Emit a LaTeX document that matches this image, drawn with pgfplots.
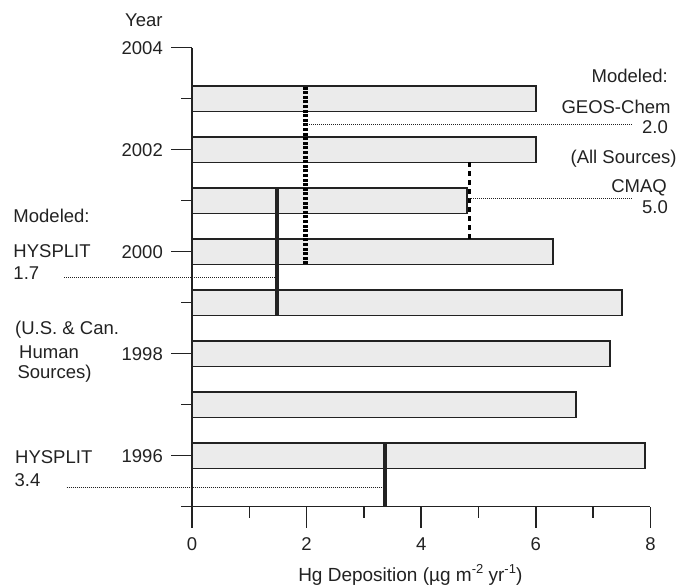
\documentclass[border=0pt]{standalone}
\usepackage{fontspec}
\setmainfont{Liberation Sans}
\usepackage{pgfplots}
\pgfplotsset{compat=1.18}
\definecolor{barfill}{HTML}{EBEBEB}
\definecolor{ink}{HTML}{222222}

\begin{document}
\begin{tikzpicture}[lab/.style={font=\fontsize{18.5bp}{22bp}\selectfont, text=ink, inner sep=0pt}]
\begin{axis}[
  x=57.3bp, y=51bp,
  xmin=0, xmax=8, ymin=1995, ymax=2004,
  axis x line*=bottom, axis y line*=left,
  axis line style={-, ink, line width=1.5bp},
  tick style={ink, line width=1.5bp},
  tick align=outside,
  major tick length=21bp, minor tick length=11bp,
  xtick={0,2,4,6,8}, minor xtick={1,3,5,7},
  ytick={1996,1998,2000,2002,2004}, minor ytick={1995,1997,1999,2001,2003},
  /pgf/number format/1000 sep={},
  /pgf/number format/assume math mode=true,
  tick label style={font=\fontsize{18.5bp}{22bp}\selectfont, text=ink, inner sep=0pt},
  xticklabel style={yshift=-10bp},
  yticklabel style={xshift=-8bp},
  clip=false,
]
% bars (annual deposition)
\addplot[xbar, bar width=0.5, fill=barfill, draw=ink, line width=1.8bp]
  coordinates {(6.00,2003) (6.00,2002) (4.80,2001) (6.30,2000) (7.50,1999) (7.30,1998) (6.70,1997) (7.91,1996)};
% GEOS-Chem 2.0 (dotted)
\addplot[black, line width=4.6bp, dash pattern=on 3bp off 1.6bp] coordinates {(1.98,1999.75) (1.98,2003.25)};
\addplot[ink, line width=0.9bp, dash pattern=on 1bp off 1bp] coordinates {(1.98,2002.50) (7.70,2002.50)};
% CMAQ 5.0 (dashed)
\addplot[black, line width=3.5bp, dash pattern=on 5bp off 4bp] coordinates {(4.84,2000.25) (4.84,2001.75)};
\addplot[ink, line width=0.9bp, dash pattern=on 1bp off 1bp] coordinates {(4.84,2001.05) (7.70,2001.05)};
% HYSPLIT 1.7 (solid)
\addplot[ink, line width=3.6bp] coordinates {(1.48,1998.75) (1.48,2001.25)};
\addplot[ink, line width=0.9bp, dash pattern=on 1bp off 1bp] coordinates {(-2.23,1999.50) (1.48,1999.50)};
% HYSPLIT 3.4 (solid)
\addplot[ink, line width=3.6bp] coordinates {(3.37,1995) (3.37,1996.25)};
\addplot[ink, line width=0.9bp, dash pattern=on 1bp off 1bp] coordinates {(-2.19,1995.38) (3.37,1995.38)};

\node[lab, anchor=base west] at (axis cs:-1.169,2004.412) {Year};
\node[lab, anchor=base east] at (axis cs:8.307,2003.322) {Modeled:};
\node[lab, anchor=base east] at (axis cs:8.354,2002.714) {GEOS-Chem};
\node[lab, anchor=base east] at (axis cs:8.307,2002.308) {2.0};
\node[lab, anchor=base east] at (axis cs:8.459,2001.733) {(All Sources)};
\node[lab, anchor=base east] at (axis cs:8.290,2001.165) {CMAQ};
\node[lab, anchor=base east] at (axis cs:8.307,2000.739) {5.0};

\node[lab, anchor=base west] at (axis cs:-3.119,2000.569) {Modeled:};
\node[lab, anchor=base west] at (axis cs:-3.119,1999.882) {HYSPLIT};
\node[lab, anchor=base west] at (axis cs:-3.119,1999.445) {1.7};
\node[lab, anchor=base west] at (axis cs:-3.089,1998.367) {(U.S. \& Can.};
\node[lab, anchor=base west] at (axis cs:-3.019,1997.910) {Human};
\node[lab, anchor=base west] at (axis cs:-3.049,1997.518) {Sources)};
\node[lab, anchor=base west] at (axis cs:-3.089,1995.851) {HYSPLIT};
\node[lab, anchor=base west] at (axis cs:-3.100,1995.392) {3.4};

\node[lab, font=\fontsize{19bp}{22bp}\selectfont, anchor=base] at (axis cs:3.81,1993.53)
  {Hg Deposition (µg m\raisebox{0.42em}{\fontsize{13bp}{14bp}\selectfont -2} yr\raisebox{0.42em}{\fontsize{13bp}{14bp}\selectfont -1})};

\coordinate (bbSW) at (axis cs:-3.351,1993.41);
\coordinate (bbNE) at (axis cs:8.726,2004.935);
\end{axis}
\pgfresetboundingbox
\path[use as bounding box] (bbSW) rectangle (bbNE);
\end{tikzpicture}
\end{document}
